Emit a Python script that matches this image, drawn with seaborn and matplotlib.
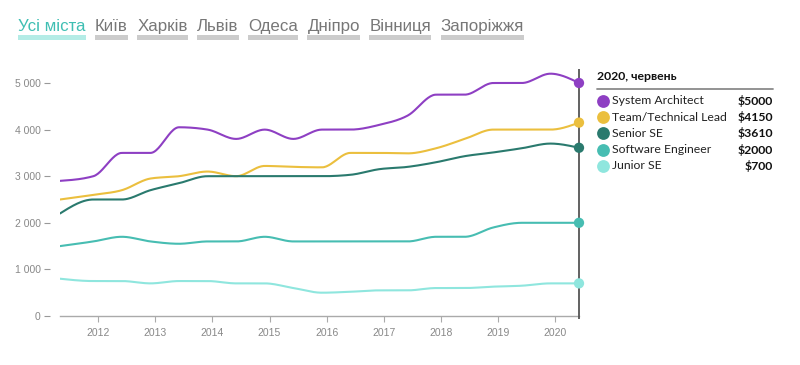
import numpy as np
import pandas as pd
import matplotlib
matplotlib.use("Agg")
import matplotlib.pyplot as plt
import seaborn as sns

# --- data (monthly medians, USD) ---
dates = ["2011-05", "2011-12", "2012-06", "2012-12", "2013-06", "2013-12",
         "2014-06", "2014-12", "2015-06", "2015-12", "2016-06", "2016-12",
         "2017-06", "2017-12", "2018-06", "2018-12", "2019-06", "2019-12",
         "2020-06"]

architect = [2900, 3000, 3500, 3500, 4050, 4000, 3800, 4000, 3800, 4000,
             4000, 4100, 4300, 4750, 4750, 5000, 5000, 5200, 5000]
team_lead = [2500, 2600, 2700, 2950, 3000, 3100, 3000, 3220, 3200, 3190,
             3500, 3500, 3490, 3600, 3800, 4000, 4000, 4000, 4150]
senior = [2200, 2500, 2500, 2700, 2850, 3000, 3000, 3000, 3000, 3000,
          3030, 3150, 3200, 3300, 3430, 3510, 3600, 3700, 3610]
software_eng = [1500, 1600, 1700, 1600, 1550, 1600, 1600, 1700, 1600, 1600,
                1600, 1600, 1600, 1700, 1700, 1900, 2000, 2000, 2000]
junior = [800, 750, 750, 700, 750, 750, 700, 700, 600, 500,
          520, 550, 550, 600, 600, 630, 650, 700, 700]

series_names = ["System Architect", "Team/Technical Lead", "Senior SE",
                "Software Engineer", "Junior SE"]
series_values = [architect, team_lead, senior, software_eng, junior]
colors = ["#8E3FC3", "#EBBF3E", "#2A7A6E", "#47BDB2", "#8FE6DE"]

cities = ["Усі міста", "Київ", "Харків", "Львів", "Одеса", "Дніпро",
          "Вінниця", "Запоріжжя"]
year_ticks = list(range(2012, 2021))
y_ticks = [0, 1000, 2000, 3000, 4000, 5000]
legend_title = "2020, червень"


def monotone(x, y, n=25):
    # d3 curveMonotoneX style smoothing between the survey points
    x = np.asarray(x, float)
    y = np.asarray(y, float)
    h = np.diff(x)
    s = np.diff(y) / h
    m = np.zeros_like(y)
    for k in range(1, len(y) - 1):
        p = (s[k - 1] * h[k] + s[k] * h[k - 1]) / (h[k - 1] + h[k])
        m[k] = (np.sign(s[k - 1]) + np.sign(s[k])) * min(abs(s[k - 1]), abs(s[k]), 0.5 * abs(p))
    m[0] = (3 * s[0] - m[1]) / 2
    m[-1] = (3 * s[-1] - m[-2]) / 2
    xs, ys = [], []
    for k in range(len(h)):
        t = np.linspace(0, 1, n, endpoint=(k == len(h) - 1))
        h00 = 2 * t**3 - 3 * t**2 + 1
        h10 = t**3 - 2 * t**2 + t
        h01 = -2 * t**3 + 3 * t**2
        h11 = t**3 - t**2
        xs.append(x[k] + t * h[k])
        ys.append(h00 * y[k] + h10 * h[k] * m[k] + h01 * y[k + 1] + h11 * h[k] * m[k + 1])
    return np.concatenate(xs), np.concatenate(ys)


dt = pd.to_datetime(dates)
xyear = (dt.year + (dt.month - 1) / 12).to_numpy(float)

frames = []
for name, vals in zip(series_names, series_values):
    sx, sy = monotone(xyear, vals)
    frames.append(pd.DataFrame({"x": sx, "y": sy, "role": name}))
curves = pd.concat(frames, ignore_index=True)
last = pd.DataFrame({"x": xyear[-1], "y": [v[-1] for v in series_values],
                     "role": series_names})

sns.set_theme(style="white")
plt.rcParams["font.family"] = ["Liberation Sans", "DejaVu Sans"]

W, H = 800, 365
fig = plt.figure(figsize=(8, 3.65), dpi=100)
ax = fig.add_axes([60 / W, 49 / H, (579 - 60) / W, 256.3 / H])

palette = dict(zip(series_names, colors))
sns.lineplot(data=curves, x="x", y="y", hue="role", palette=palette,
             estimator=None, sort=False, linewidth=1.5, legend=False, ax=ax)
sns.scatterplot(data=last, x="x", y="y", hue="role", palette=palette,
                s=55, linewidth=0, legend=False, ax=ax, zorder=5, clip_on=False)
ax.vlines(xyear[-1], -60, 5300, color="#555555", lw=1.3, zorder=4, clip_on=False)

ax.set_xlim(xyear[0], xyear[-1])
ax.set_ylim(0, 5500)
ax.set_xticks(year_ticks)
ax.set_xticklabels([str(y) for y in year_ticks])
ax.set_yticks(y_ticks)
ax.set_yticklabels([f"{v:,}".replace(",", " ") for v in y_ticks])
ax.set_xlabel("")
ax.set_ylabel("")
for side in ["top", "right", "left"]:
    ax.spines[side].set_visible(False)
ax.spines["bottom"].set_color("#AAAAAA")
ax.spines["bottom"].set_linewidth(1.0)
ax.spines["left"].set_position(("outward", 7))
ax.tick_params(axis="y", length=4, width=0.8, color="#999999", pad=3,
               labelsize=7.5, labelcolor="#888888", left=True)
ax.tick_params(axis="x", length=4, width=0.8, color="#AAAAAA", pad=5,
               labelsize=7.5, labelcolor="#888888", bottom=True)

# --- legend panel on the right ---
lg = fig.add_axes([0, 0, 1, 1], zorder=10)
lg.set_xlim(0, W)
lg.set_ylim(H, 0)
lg.axis("off")
lg.patch.set_alpha(0)
lg.text(597, 77, legend_title, fontsize=8.8, fontweight="bold", color="#111111",
        va="center", ha="left", family=["Lato", "DejaVu Sans"])
lg.plot([597, 773], [88.5, 88.5], color="#8A8A8A", lw=1.3)
for i, (name, vals, c) in enumerate(zip(series_names, series_values, colors)):
    yy = 101 + i * 16.2
    lg.scatter([603], [yy], s=85, color=c, linewidth=0)
    lg.text(612, yy, name, fontsize=8.8, color="#222222", va="center", ha="left",
            family=["Lato", "DejaVu Sans"])
    lg.text(773, yy, f"${vals[-1]}", fontsize=8.8, fontweight="bold", color="#111111",
            va="center", ha="right", family=["Lato", "DejaVu Sans"])

# --- city tabs on top ---
fig.canvas.draw()
renderer = fig.canvas.get_renderer()
tx = 18
for i, city in enumerate(cities):
    active = i == 0
    t = lg.text(tx, 31, city, fontsize=12.2, va="baseline", ha="left",
                color="#3FBFB3" if active else "#777777",
                family=["Liberation Sans Narrow", "Liberation Sans", "DejaVu Sans"])
    bb = t.get_window_extent(renderer=renderer)
    x0, x1 = bb.x0, bb.x1
    lg.add_patch(plt.Rectangle((x0, 35), x1 - x0, 5, lw=0,
                               color="#B4ECE6" if active else "#CCCCCC"))
    tx = x1 + 9.5

fig.savefig("out.png", dpi=100)
